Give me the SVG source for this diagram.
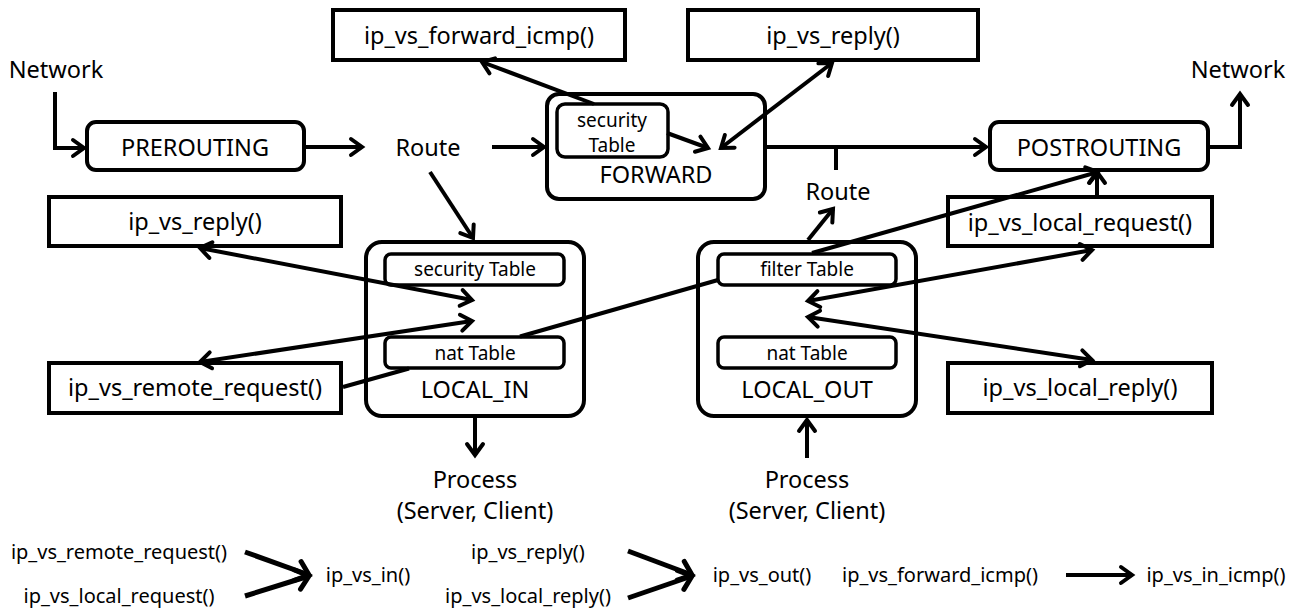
<svg xmlns="http://www.w3.org/2000/svg" width="1297" height="616" viewBox="0 0 1297 616">
<defs>
<marker id="ah" markerUnits="userSpaceOnUse" markerWidth="30" markerHeight="30" viewBox="-15 -15 30 30" refX="0" refY="0" orient="auto-start-reverse">
<path d="M-11,-8 L0,0 L-11,8" fill="none" stroke="#000" stroke-width="4" stroke-linecap="round" stroke-linejoin="miter"/>
</marker>
<marker id="ah2" markerUnits="userSpaceOnUse" markerWidth="30" markerHeight="30" viewBox="-15 -15 30 30" refX="0" refY="0" orient="auto">
<path d="M-12,-10 L0,0 L-12,10" fill="none" stroke="#000" stroke-width="5" stroke-linecap="round" stroke-linejoin="miter"/>
</marker>
</defs>
<style>
text{font-family:"Noto Sans","Liberation Sans",sans-serif;fill:#000;text-anchor:middle}
.t{font-size:23.5px}
.s{font-size:19px}
.l{font-size:20px}
.box{fill:#fff;stroke:#000;stroke-width:4}
.hook{fill:#fff;stroke:#000;stroke-width:4}
.tbl{fill:#fff;stroke:#000;stroke-width:3.5}
.c{fill:none;stroke:#000;stroke-width:4}
.lg{fill:none;stroke:#000;stroke-width:5}
.a{marker-end:url(#ah)}
.d{marker-start:url(#ah);marker-end:url(#ah)}
.a2{marker-end:url(#ah2)}
</style>
<rect width="1297" height="616" fill="#fff"/>

<g id="network-in"><text class="t" x="56" y="78">Network</text></g>
<g id="prerouting"><rect class="hook" x="87" y="122" width="217" height="48" rx="9"/><text class="t" x="195" y="156">PREROUTING</text></g>
<g id="route1"><text class="t" x="428" y="156">Route</text></g>
<g id="forward-icmp"><rect class="box" x="333" y="10" width="292" height="50"/><text class="t" x="479" y="44">ip_vs_forward_icmp()</text></g>
<g id="reply-top"><rect class="box" x="688" y="10" width="290" height="50"/><text class="t" x="833" y="44">ip_vs_reply()</text></g>
<g id="forward"><rect class="hook" x="547" y="94" width="218" height="105" rx="12" style="fill:none"/>
<rect class="tbl" x="557" y="104" width="111" height="53" rx="8"/>
<text class="s" x="612" y="127">security</text><text class="s" x="612" y="152">Table</text>
<text class="t" x="656" y="183">FORWARD</text></g>
<g id="route2"><text class="t" x="838" y="200">Route</text></g>
<g id="postrouting"><rect class="hook" x="990" y="122" width="218" height="48" rx="9"/><text class="t" x="1099" y="156">POSTROUTING</text></g>
<g id="network-out"><text class="t" x="1238" y="78">Network</text></g>
<g id="reply-left"><rect class="box" x="49" y="197" width="292" height="49"/><text class="t" x="195" y="230">ip_vs_reply()</text></g>
<g id="local-request"><rect class="box" x="948" y="197" width="264" height="49"/><text class="t" x="1080" y="231">ip_vs_local_request()</text></g>
<g id="remote-request"><rect class="box" x="49" y="363" width="292" height="50"/><text class="t" x="195" y="396">ip_vs_remote_request()</text></g>
<g id="local-reply"><rect class="box" x="948" y="363" width="264" height="50"/><text class="t" x="1080" y="396">ip_vs_local_reply()</text></g>
<g id="local-in"><rect class="hook" x="366" y="242" width="218" height="174" rx="16" style="fill:none"/>
<rect class="tbl" x="385" y="254" width="179" height="31" rx="6"/><text class="s" x="475" y="276">security Table</text>
<rect class="tbl" x="385" y="337" width="179" height="31" rx="6"/><text class="s" x="475" y="360">nat Table</text>
<text class="t" x="475" y="398">LOCAL_IN</text></g>
<g id="local-out"><rect class="hook" x="698" y="242" width="218" height="174" rx="16" style="fill:none"/>
<rect class="tbl" x="718" y="254" width="178" height="31" rx="6"/><text class="s" x="807" y="276">filter Table</text>
<rect class="tbl" x="718" y="337" width="178" height="31" rx="6"/><text class="s" x="807" y="360">nat Table</text>
<text class="t" x="807" y="398">LOCAL_OUT</text></g>
<g id="process-in"><text class="t" x="475" y="488">Process</text><text class="t" x="475" y="519">(Server, Client)</text></g>
<g id="process-out"><text class="t" x="807" y="488">Process</text><text class="t" x="807" y="519">(Server, Client)</text></g>
<g id="legend">
<text class="l" x="119" y="559">ip_vs_remote_request()</text>
<text class="l" x="119" y="603">ip_vs_local_request()</text>
<text class="l" x="368" y="582">ip_vs_in()</text>
<text class="l" x="528" y="559">ip_vs_reply()</text>
<text class="l" x="528" y="603">ip_vs_local_reply()</text>
<text class="l" x="762" y="582">ip_vs_out()</text>
<text class="l" x="940" y="582">ip_vs_forward_icmp()</text>
<text class="l" x="1216" y="582">ip_vs_in_icmp()</text>
</g>

<g id="connectors">
<path class="c a" d="M55,92 V148 H84"/>
<path class="c a" d="M306,147 H362"/>
<path class="c a" d="M492,147 H544"/>
<path class="c a" d="M430,172 L473,238"/>
<path class="c a" d="M594,104 L482,62"/>
<path class="c a" d="M667,133 L708,148"/>
<path class="c d" d="M721,148 L832,63"/>
<path class="c a" d="M766,147 H986"/>
<path class="c" d="M836,147 V170"/>
<path class="c a" d="M1209,147 H1240 V94"/>
<path class="c a" d="M1097,195 V172"/>
<path class="c d" d="M200,248 L472,300"/>
<path class="c d" d="M472,321 L200,362"/>
<path class="c" d="M343,387 L409,368.5"/>
<path class="c" d="M520,336.5 L718,280"/>
<path class="c a" d="M812,253 L1098,172"/>
<path class="c a" d="M808,240 L833,209"/>
<path class="c d" d="M808,301 L1092,250"/>
<path class="c d" d="M808,317 L1092,360"/>
<path class="c a" d="M475,418 V455"/>
<path class="c a" d="M807,458 V420"/>
<path class="lg a2" d="M245,552 L309,575"/>
<path class="lg a2" d="M245,596 L309,576"/>
<path class="lg a2" d="M628,551 L692,575"/>
<path class="lg a2" d="M628,598 L692,576"/>
<path class="c a" d="M1066,575 H1132"/>
</g>
</svg>
